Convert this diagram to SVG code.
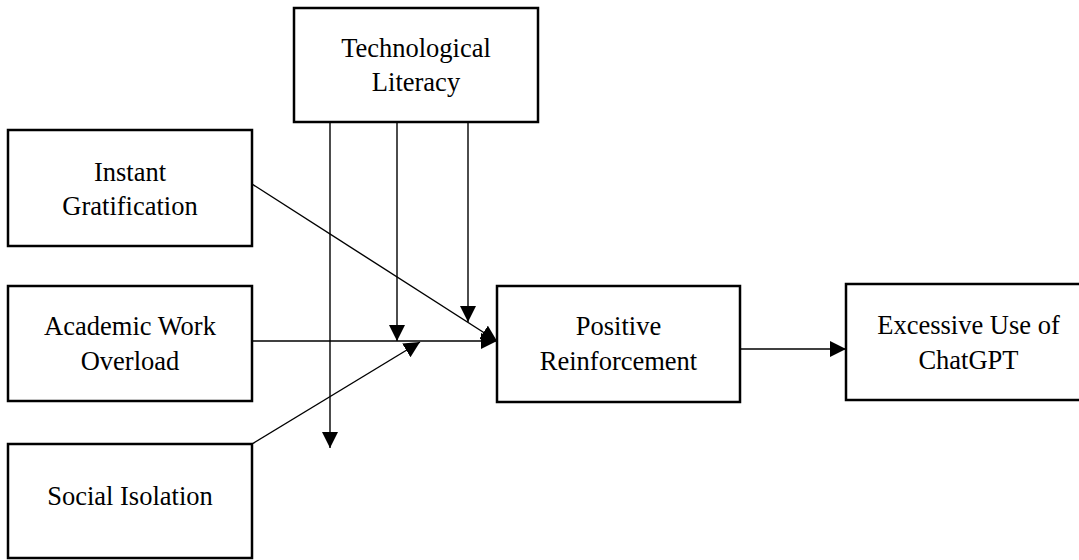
<svg xmlns="http://www.w3.org/2000/svg" width="1079" height="560" viewBox="0 0 1079 560">
<style>
.box{fill:#fff;stroke:#000;stroke-width:2.5}
.t{font-family:"Liberation Serif","Times New Roman",serif;font-size:26.5px;fill:#000;text-anchor:middle}
.c{stroke:#000;stroke-width:1.4;fill:none;marker-end:url(#ah)}
</style>
<defs>
<marker id="ah" markerUnits="userSpaceOnUse" markerWidth="18" markerHeight="18" refX="16" refY="8" orient="auto">
<path d="M0,0 L16,8 L0,16 z" fill="#000"/>
</marker>
</defs>
<rect width="1079" height="560" fill="#fff"/>
<g id="connectors">
<line class="c" x1="330" y1="122" x2="330" y2="448"/>
<line class="c" x1="397" y1="122" x2="397" y2="341"/>
<line class="c" x1="468" y1="122" x2="468" y2="322"/>
<line class="c" x1="252" y1="184" x2="497" y2="341"/>
<line class="c" x1="252" y1="341" x2="497" y2="341"/>
<line class="c" x1="252" y1="444" x2="420" y2="342"/>
<line class="c" x1="740" y1="349" x2="846" y2="349"/>
</g>
<g id="tech">
<rect class="box" x="294" y="8" width="244" height="114"/>
<text class="t" x="416" y="57">Technological</text>
<text class="t" x="416" y="91">Literacy</text>
</g>
<g id="instant">
<rect class="box" x="8" y="130" width="244" height="116"/>
<text class="t" x="130" y="181">Instant</text>
<text class="t" x="130" y="215">Gratification</text>
</g>
<g id="academic">
<rect class="box" x="8" y="286" width="244" height="115"/>
<text class="t" x="130" y="335">Academic Work</text>
<text class="t" x="130" y="370">Overload</text>
</g>
<g id="social">
<rect class="box" x="8" y="444" width="244" height="114"/>
<text class="t" x="130" y="505">Social Isolation</text>
</g>
<g id="positive">
<rect class="box" x="497" y="286" width="243" height="116"/>
<text class="t" x="618.5" y="335">Positive</text>
<text class="t" x="618.5" y="370">Reinforcement</text>
</g>
<g id="excessive">
<rect class="box" x="846" y="284" width="245" height="116"/>
<text class="t" x="968.5" y="334">Excessive Use of</text>
<text class="t" x="968.5" y="369">ChatGPT</text>
</g>
</svg>
